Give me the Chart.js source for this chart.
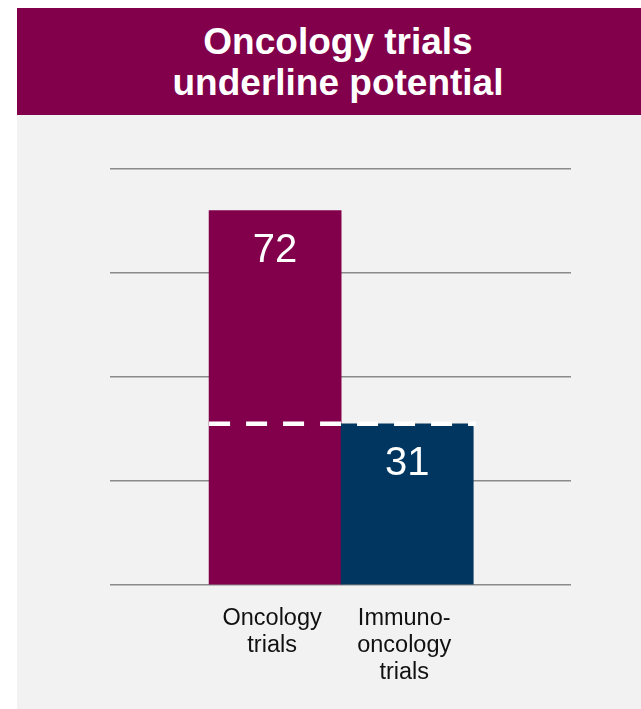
<!DOCTYPE html>
<html>
<head>
<meta charset="utf-8">
<script src="https://cdn.jsdelivr.net/npm/chart.js@4.4.1/dist/chart.umd.min.js"></script>
<style>
  html, body { margin: 0; padding: 0; background: #fff; }
  body { width: 641px; height: 709px; position: relative; overflow: hidden; font-family: "Liberation Sans", Arial, sans-serif; }
  .banner {
    position: absolute; left: 17px; top: 8px; width: 624px; height: 107px;
    background: #82004b; color: #fff; box-sizing: border-box;
    padding: 13px 0 0 18px; text-align: center;
    font-weight: bold; font-size: 37px; line-height: 41px;
  }
  .panel { position: absolute; left: 17px; top: 115px; width: 624px; height: 594px; background: #f2f2f2; }
  canvas { display: block; }
</style>
</head>
<body>
<div class="banner">Oncology trials<br>underline potential</div>
<div class="panel"><canvas id="chart" width="624" height="594"></canvas></div>
<script>
// datos
const categories = ['Oncology trials', 'Immuno-oncology trials'];
const tickLabels = [['Oncology', 'trials'], ['Immuno-', 'oncology', 'trials']];
const values     = [72, 31];
const barColors  = ['#82004b', '#003660'];
const yTicks     = [0, 20, 40, 60, 80];

/* ==== Etiquetas de valor dentro de las barras ==== */
const valueLabels = {
  id: 'valueLabels',
  afterDatasetsDraw(chart) {
    const { ctx } = chart;
    const meta = chart.getDatasetMeta(0);

    // línea discontinua al nivel de la segunda barra
    const first = meta.data[0];
    const last  = meta.data[meta.data.length - 1];
    const yRef  = chart.scales.y.getPixelForValue(values[values.length - 1]);
    ctx.save();
    ctx.strokeStyle = '#ffffff';
    ctx.lineWidth = 4.5;
    ctx.setLineDash([21, 16]);
    ctx.beginPath();
    ctx.moveTo(first.x - first.width / 2, yRef);
    ctx.lineTo(last.x + last.width / 2 + 3, yRef);
    ctx.stroke();
    ctx.restore();

    ctx.save();
    ctx.fillStyle = '#ffffff';
    ctx.font = '40px "Liberation Sans", Arial, sans-serif';
    ctx.textAlign = 'center';
    ctx.textBaseline = 'alphabetic';
    meta.data.forEach((bar, i) => {
      ctx.fillText(String(values[i]), bar.x, bar.y + 51);
    });
    ctx.restore();
  }
};

const canvas = document.getElementById('chart');

// eslint-disable-next-line no-unused-vars
const chart = new Chart(canvas.getContext('2d'), {
  type: 'bar',
  data: {
    labels: categories,
    datasets: [{
      label: 'Trials',
      data: values.map((v, i) => ({ x: i, y: v })),
      backgroundColor: barColors,
      borderWidth: 0,
      barPercentage: 1,
      categoryPercentage: 1,
    }]
  },
  options: {
    responsive: false,
    animation: false,
    layout: { padding: { left: 93, right: 70, top: 54, bottom: 0 } },
    plugins: {
      legend: { display: false },
      tooltip: { enabled: false },
      title: { display: false }
    },
    scales: {
      x: {
        type: 'linear',
        offset: false,
        min: -1.25,
        max: 2.24,
        grid: { display: false, drawTicks: false },
        border: { display: false },
        afterBuildTicks: (scale) => {
          scale.ticks = categories.map((_, i) => ({ value: i }));
        },
        afterFit: (scale) => { scale.height = 124; },
        ticks: {
          padding: 20,
          labelOffset: -3,
          color: '#111111',
          font: { family: '"Liberation Sans", Arial, sans-serif', size: 23.5, lineHeight: 1.15 },
          callback: (value) => tickLabels[value] ?? ''
        }
      },
      y: {
        min: 0,
        max: 80,
        afterBuildTicks: (scale) => {
          scale.ticks = yTicks.map(v => ({ value: v }));
        },
        afterFit: (scale) => { scale.width = 0; },
        grid: { color: '#8a8a8a', lineWidth: 1.5, drawTicks: false },
        border: { display: false },
        ticks: { display: false }
      }
    }
  },
  plugins: [valueLabels]
});
</script>
</body>
</html>
